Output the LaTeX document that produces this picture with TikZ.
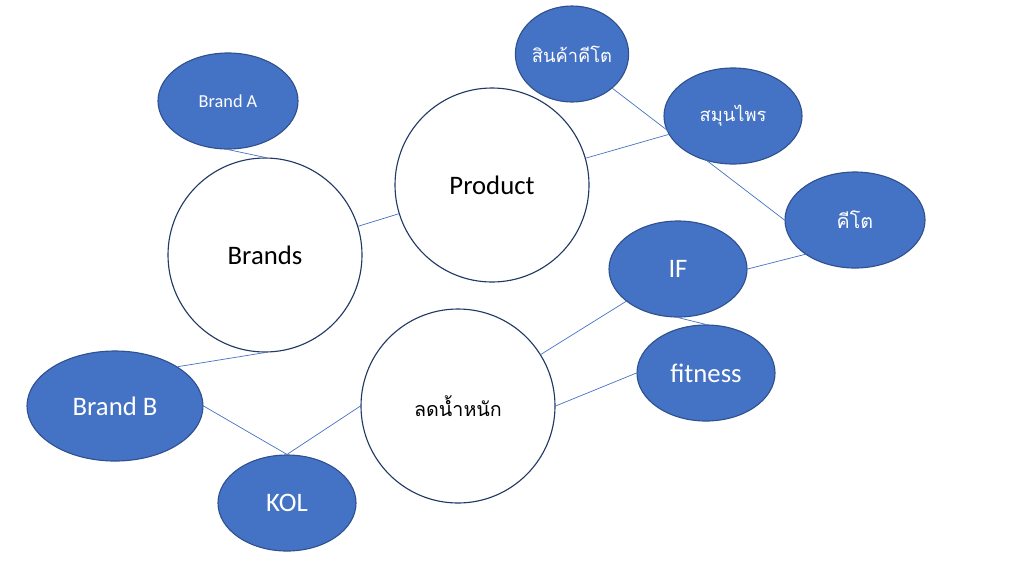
\documentclass[tikz,border=0pt]{standalone}
\usepackage{fontspec}
\setmainfont{Carlito}
\newfontfamily\thaifont[Script=Thai]{Loma}
\usetikzlibrary{shapes.geometric}
\definecolor{accblue}{HTML}{4472C4}
\definecolor{edgeblue}{HTML}{2F528F}
\tikzset{
  topic/.style={draw=edgeblue, line width=0.8pt, fill=accblue, ellipse, text=white, inner sep=0pt},
  hub/.style={draw=edgeblue!70!black, line width=0.8pt, fill=white, circle, minimum size=194*0.025cm, inner sep=0pt},
  link/.style={accblue, line width=0.5pt}
}
\begin{document}
\begin{tikzpicture}[x=0.025cm,y=-0.025cm]
\useasboundingbox (0,0) rectangle (1024,574);
\node[hub, font=\fontsize{19}{22}\selectfont] (brands) at (265,255) {Brands};
\node[hub, font=\fontsize{19}{22}\selectfont] (product) at (492,185) {Product};
\node[hub, font=\thaifont\fontsize{14}{18}\selectfont] (lose) at (458,406) {ลดน้ำหนัก};

\node[topic, minimum width=140*0.025cm, minimum height=96*0.025cm, font=\fontsize{13}{16}\selectfont] (branda) at (228,101) {Brand A};
\node[topic, minimum width=176*0.025cm, minimum height=110*0.025cm, font=\fontsize{19}{22}\selectfont] (brandb) at (115,406) {Brand B};
\node[topic, minimum width=138*0.025cm, minimum height=96*0.025cm, font=\fontsize{19}{22}\selectfont] (kol) at (287,503) {KOL};
\node[topic, minimum width=112*0.025cm, minimum height=96*0.025cm, font=\thaifont\fontsize{13}{16}\selectfont] (ketoprod) at (572,54) {สินค้าคีโต};
\node[topic, minimum width=138*0.025cm, minimum height=96*0.025cm, font=\thaifont\fontsize{13}{16}\selectfont] (herb) at (733,116) {สมุนไพร};
\node[topic, minimum width=140*0.025cm, minimum height=96*0.025cm, font=\thaifont\fontsize{14}{18}\selectfont] (keto) at (855,220) {คีโต};
\node[topic, minimum width=138*0.025cm, minimum height=96*0.025cm, font=\fontsize{19}{22}\selectfont] (if) at (678,269) {IF};
\node[topic, minimum width=138*0.025cm, minimum height=96*0.025cm, font=\fontsize{19}{22}\selectfont] (fit) at (706,373) {fitness};

\draw[link] (branda.south) -- (brands.north);
\draw[link] (brands) -- (product);
\draw[link] (product) -- (herb);
\draw[link] (ketoprod.south east) -- (keto.west);
\draw[link] (if.east) -- (keto.south west);
\draw[link] (if.south) -- (fit.north);
\draw[link] (lose) -- (if);
\draw[link] (lose.east) -- (fit.west);
\draw[link] (brands.south) -- (brandb.north east);
\draw[link] (brandb.east) -- (kol.north);
\draw[link] (kol.north) -- (lose.west);
\end{tikzpicture}
\end{document}
